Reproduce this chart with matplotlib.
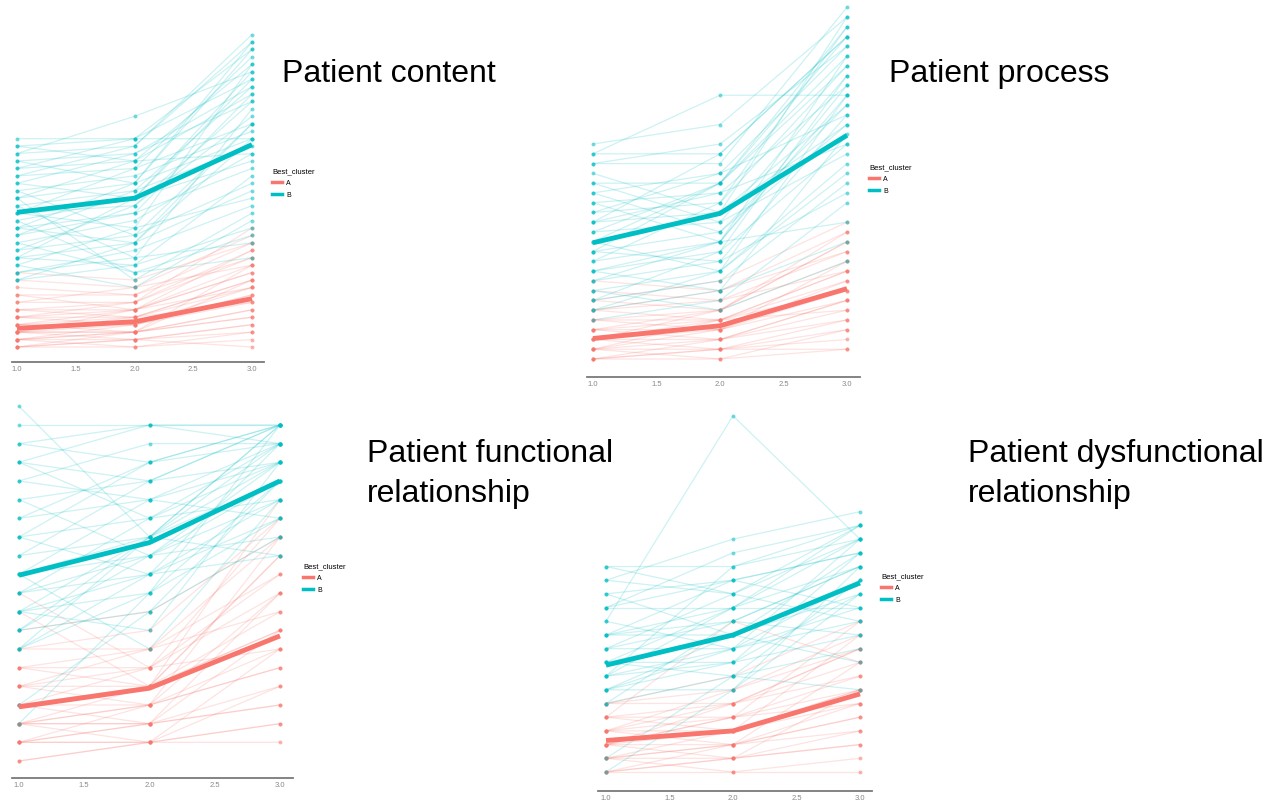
import matplotlib
matplotlib.use("Agg")
import matplotlib.pyplot as plt
from matplotlib.lines import Line2D

W, H = 1270, 802
COL_A = "#F8766D"
COL_B = "#00BFC4"

times = [1.0, 2.0, 3.0]
tick_vals = [1.0, 1.5, 2.0, 2.5, 3.0]
tick_labels = ["1.0", "1.5", "2.0", "2.5", "3.0"]

# scores per patient (time 1, 2, 3)
content_B = [[28, 28, 40], [27, 28, 36], [26, 27, 42], [25, 26, 33], [24, 25, 38], [23, 24, 30],
             [22, 26, 35], [21, 23, 29], [20, 22, 41], [19, 21, 27], [18, 19, 31], [17, 20, 25],
             [16, 18, 34], [15, 18, 24], [14, 17, 26], [13, 15, 22], [12, 14, 28], [11, 16, 20],
             [10, 12, 32], [9, 11, 23], [24, 28, 28], [22, 20, 37], [20, 9, 18], [18, 24, 39],
             [16, 14, 21], [14, 10, 15], [12, 20, 36], [10, 13, 19], [26, 31, 37], [19, 12, 14],
             [21, 15, 30], [13, 19, 33], [17, 10, 12], [25, 22, 28], [11, 8, 17], [23, 27, 41],
             [15, 21, 35], [27, 25, 26], [9, 14, 30], [18, 16, 38], [12, 11, 16], [20, 25, 34],
             [16, 22, 40]]
content_A = [[0, 0, 1], [0, 1, 3], [1, 1, 2], [1, 2, 5], [2, 2, 4], [2, 3, 7], [3, 3, 6],
             [3, 4, 9], [4, 4, 8], [4, 5, 11], [5, 5, 10], [5, 6, 13], [6, 6, 12], [7, 7, 14],
             [1, 3, 8], [2, 4, 6], [0, 2, 5], [3, 5, 10], [2, 1, 3], [4, 3, 7], [6, 8, 15],
             [8, 7, 12], [9, 8, 11], [10, 9, 14], [1, 0, 2], [0, 1, 0], [2, 2, 9], [3, 2, 4],
             [4, 6, 16], [1, 2, 11], [5, 4, 9], [2, 5, 13], [7, 5, 8]]
content_mean_A = [2.5, 3.4, 6.5]
content_mean_B = [18.1, 20.0, 27.2]

process_B = [[22, 24, 35], [21, 21, 33], [20, 20, 36], [18, 18, 30], [17, 19, 32], [16, 17, 28],
             [15, 16, 34], [14, 15, 26], [13, 14, 29], [12, 18, 31], [11, 13, 24], [10, 12, 27],
             [9, 11, 22], [8, 10, 25], [7, 9, 20], [6, 8, 18], [5, 7, 23], [4, 6, 16],
             [21, 27, 27], [18, 14, 21], [16, 12, 14], [14, 21, 33], [12, 9, 19], [10, 16, 30],
             [9, 7, 12], [13, 18, 34], [11, 10, 17], [8, 12, 28], [15, 19, 25], [6, 11, 29],
             [19, 15, 24], [7, 5, 10], [20, 22, 32], [12, 15, 35], [17, 13, 26], [9, 12, 31],
             [14, 17, 22], [5, 9, 27], [11, 18, 33]]
process_A = [[0, 0, 1], [0, 1, 2], [1, 1, 3], [1, 2, 4], [2, 2, 5], [2, 3, 6], [3, 3, 8],
             [3, 4, 7], [4, 4, 9], [4, 5, 10], [5, 6, 11], [1, 0, 3], [0, 2, 6], [2, 1, 4],
             [3, 5, 12], [5, 4, 8], [6, 5, 13], [7, 6, 9], [8, 7, 11], [1, 3, 10], [2, 4, 5],
             [0, 1, 1], [6, 8, 14], [4, 3, 7], [2, 5, 12], [3, 2, 6], [1, 4, 9], [5, 7, 13]]
process_mean_A = [2.1, 3.4, 7.2]
process_mean_B = [11.9, 14.9, 22.9]

functional_B = [[18, 18, 18], [17, 16, 18], [16, 18, 18], [15, 17, 17], [14, 15, 18], [13, 14, 16],
                [12, 13, 17], [11, 12, 15], [10, 11, 16], [10, 12, 18], [9, 10, 14], [9, 11, 15],
                [8, 9, 13], [8, 10, 17], [7, 8, 12], [7, 12, 16], [6, 9, 15], [12, 10, 13],
                [14, 11, 12], [16, 13, 14], [11, 15, 18], [19, 12, 11], [13, 16, 17], [15, 14, 13],
                [10, 6, 14], [8, 12, 18], [6, 10, 11], [17, 18, 17], [9, 13, 16], [7, 11, 14],
                [2, 9, 18], [3, 8, 15], [12, 16, 18], [10, 14, 17], [8, 7, 16], [6, 12, 17],
                [16, 15, 16]]
functional_A = [[0, 1, 1], [1, 1, 2], [1, 2, 3], [2, 2, 4], [2, 3, 5], [3, 3, 6], [3, 4, 7],
                [4, 4, 8], [4, 5, 6], [5, 5, 9], [5, 6, 10], [6, 6, 8], [1, 3, 12], [2, 4, 11],
                [3, 5, 13], [0, 1, 4], [2, 2, 7], [4, 3, 5], [6, 7, 13], [3, 2, 3], [1, 2, 9],
                [5, 4, 11], [7, 8, 12], [9, 5, 10], [2, 1, 2], [8, 4, 7], [3, 4, 14], [1, 1, 6],
                [4, 6, 12], [2, 3, 9]]
functional_mean_A = [2.9, 3.9, 6.7]
functional_mean_B = [9.95, 11.7, 15.0]

dysfunctional_B = [[15, 15, 17], [14, 13, 18], [13, 14, 16], [12, 12, 12], [12, 16, 18], [10, 11, 15],
                   [10, 10, 13], [9, 13, 17], [9, 9, 11], [8, 10, 14], [8, 8, 16], [7, 9, 12],
                   [7, 12, 18], [6, 8, 10], [6, 6, 13], [5, 7, 9], [5, 11, 15], [11, 26, 17],
                   [13, 10, 8], [14, 17, 19], [11, 9, 14], [12, 14, 12], [8, 7, 6], [7, 15, 18],
                   [6, 10, 16], [9, 11, 10], [10, 12, 17], [0, 6, 15], [1, 7, 14], [15, 13, 11],
                   [8, 12, 15], [6, 9, 17], [10, 14, 16], [7, 8, 13]]
dysfunctional_A = [[0, 0, 0], [0, 1, 2], [1, 1, 3], [1, 2, 4], [2, 2, 3], [2, 3, 5], [3, 3, 6],
                   [3, 4, 7], [4, 4, 5], [4, 5, 8], [5, 5, 9], [0, 1, 6], [1, 3, 10], [2, 4, 11],
                   [3, 2, 4], [5, 6, 10], [4, 11, 8], [2, 5, 7], [1, 0, 1], [3, 5, 9], [0, 2, 5],
                   [5, 7, 11], [4, 3, 6], [2, 1, 2], [1, 2, 8], [3, 6, 9], [2, 4, 6]]
dysfunctional_mean_A = [2.3, 3.0, 5.7]
dysfunctional_mean_B = [7.8, 10.0, 13.8]

panels = [
    # title, A, B, meanA, meanB, axes box (l, t, r, b) px, x of 1.0 / 3.0, y of score 0, px per score, title pos, legend pos
    ("Patient content", content_A, content_B, content_mean_A, content_mean_B,
     (12, 20, 264, 362), 17, 252, 347, 7.44, (282, 74), (272, 168)),
    ("Patient process", process_A, process_B, process_mean_A, process_mean_B,
     (587, 0, 860, 377), 593, 847, 359, 9.77, (889, 74), (869, 164)),
    ("Patient functional\nrelationship", functional_A, functional_B, functional_mean_A, functional_mean_B,
     (12, 398, 293, 778), 19, 280, 761, 18.67, (367, 474), (303, 563)),
    ("Patient dysfunctional\nrelationship", dysfunctional_A, dysfunctional_B, dysfunctional_mean_A,
     dysfunctional_mean_B, (598, 405, 872, 791), 606, 860, 772, 13.7, (968, 474), (881, 573)),
]

fig = plt.figure(figsize=(W / 100, H / 100), dpi=100)
plt.rcParams['font.family'] = ['Liberation Sans', 'DejaVu Sans']

for title, grp_a, grp_b, mean_a, mean_b, box, x1, x3, y0, dy, tpos, lpos in panels:
    l, t, r, b = box
    ax = fig.add_axes([l / W, 1 - b / H, (r - l) / W, (b - t) / H])
    ppu = (x3 - x1) / 2
    ax.set_xlim(1 + (l - x1) / ppu, 3 + (r - x3) / ppu)
    ax.set_ylim((y0 - b) / dy, (y0 - t) / dy)

    for grp, col in ((grp_a, COL_A), (grp_b, COL_B)):
        for traj in grp:
            ax.plot(times, traj, color=col, lw=0.9, alpha=0.2, zorder=2)
            ax.scatter(times, traj, s=8, color=col, alpha=0.55, lw=0, zorder=3)
    ax.plot(times, mean_a, color=COL_A, lw=3.5, solid_capstyle='butt', zorder=5)
    ax.plot(times, mean_b, color=COL_B, lw=3.5, solid_capstyle='butt', zorder=5)

    for s in ("top", "right", "left"):
        ax.spines[s].set_visible(False)
    ax.spines["bottom"].set_color("#7a7a7a")
    ax.spines["bottom"].set_linewidth(1.3)
    ax.set_yticks([])
    ax.set_xticks(tick_vals)
    ax.set_xticklabels(tick_labels)
    ax.tick_params(axis="x", length=0, labelsize=5.5, colors="#888888", pad=3)
    ax.patch.set_alpha(0)

    handles = [Line2D([], [], color=COL_A, lw=2.5), Line2D([], [], color=COL_B, lw=2.5)]
    fig.legend(handles, ["A", "B"], title="Best_cluster", loc="upper left",
               bbox_to_anchor=(lpos[0] / W, 1 - lpos[1] / H), frameon=False,
               fontsize=5, title_fontsize=5.5, handlelength=1.4, handletextpad=0.6,
               labelspacing=0.7, borderaxespad=0, borderpad=0, alignment="left")
    fig.text(tpos[0] / W, 1 - tpos[1] / H, title, fontsize=23, va="center", ha="left",
             linespacing=1.4)

fig.savefig("out.png", dpi=100)
